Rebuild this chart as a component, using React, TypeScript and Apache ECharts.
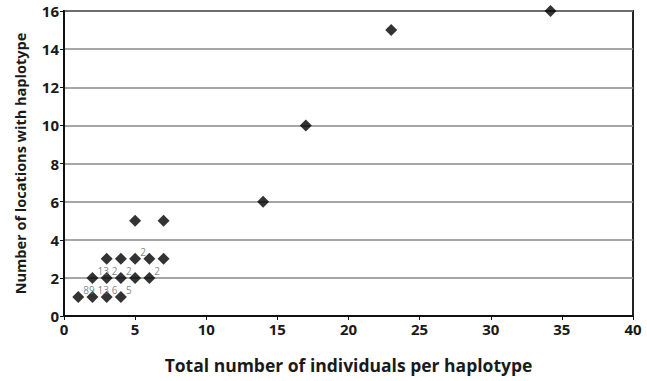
import React, { useEffect, useRef } from "react";
import * as echarts from "echarts";

const xValues = [1, 2, 3, 4, 2, 3, 4, 5, 6, 3, 4, 5, 6, 7, 5, 7, 14, 17, 23, 34.2];
const yValues = [1, 1, 1, 1, 2, 2, 2, 2, 2, 3, 3, 3, 3, 3, 5, 5, 6, 10, 15, 16];
const pointLabels = ["89", "13", "6", "5", "13", "2", "2", "", "2", "", "", "2", "", "", "", "", "", "", "", ""];
const xTicks = [0, 5, 10, 15, 20, 25, 30, 35, 40];
const yTicks = [0, 2, 4, 6, 8, 10, 12, 14, 16];

export default function App() {
  const ref = useRef<HTMLDivElement>(null);
  useEffect(() => {
    const chart = echarts.init(ref.current!, null, { renderer: "svg" });
    const font = "'Open Sans', 'Liberation Sans', sans-serif";
    chart.setOption({
      animation: false,
      grid: {
        left: 64,
        right: 14,
        top: 11,
        bottom: 65,
        show: true,
        borderColor: "#222",
        borderWidth: 2,
        backgroundColor: "transparent",
      },
      xAxis: {
        type: "value",
        min: xTicks[0],
        max: xTicks[xTicks.length - 1],
        interval: 5,
        name: "Total number of individuals per haplotype",
        nameLocation: "middle",
        nameGap: 40,
        nameTextStyle: { fontFamily: font, fontWeight: "bold", fontSize: 17.5, color: "#1a1a1a" },
        axisLine: { lineStyle: { color: "#111", width: 2 } },
        axisTick: { show: true, length: 4, lineStyle: { color: "#111" } },
        axisLabel: { fontFamily: font, fontWeight: "bold", fontSize: 15, color: "#1a1a1a", margin: 5 },
        splitLine: { show: false },
      },
      yAxis: {
        type: "value",
        min: yTicks[0],
        max: yTicks[yTicks.length - 1],
        interval: 2,
        name: "Number of locations with haplotype",
        nameLocation: "middle",
        nameGap: 36,
        nameTextStyle: { fontFamily: font, fontWeight: "bold", fontSize: 14.5, color: "#1a1a1a" },
        axisLine: { lineStyle: { color: "#111", width: 2 } },
        axisTick: { show: true, length: 4, lineStyle: { color: "#111" } },
        axisLabel: { fontFamily: font, fontWeight: "bold", fontSize: 15, color: "#1a1a1a", margin: 5 },
        splitLine: { show: true, lineStyle: { color: "#888", width: 1.5 } },
      },
      series: [
        {
          type: "scatter",
          symbol: "diamond",
          symbolSize: 12,
          itemStyle: { color: "#000" },
          z: 2,
          data: xValues.map((x, i) => [x, yValues[i]]),
        },
        {
          type: "scatter",
          symbol: "circle",
          symbolSize: 12,
          itemStyle: { color: "rgba(0,0,0,0)" },
          z: 5,
          silent: true,
          data: xValues.map((x, i) => ({
            value: [x, yValues[i]],
            label: {
              show: pointLabels[i] !== "",
              formatter: pointLabels[i],
              position: [11, -6],
              fontFamily: font,
              fontSize: 10,
              color: "#666",
            },
          })),
        },
      ],
    });
    return () => chart.dispose();
  }, []);
  return (
    <div
      ref={ref}
      style={{ position: "absolute", left: 0, top: 0, width: 647, height: 381 }}
    />
  );
}
